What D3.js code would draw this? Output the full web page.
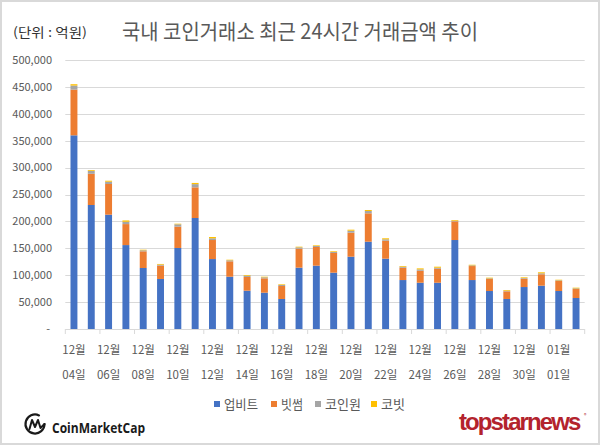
<!DOCTYPE html>
<html><head><meta charset="utf-8">
<script src="https://cdn.jsdelivr.net/npm/d3@7"></script>
<style>
html,body{margin:0;padding:0;background:#fff;}
svg{display:block;font-family:"Noto Sans CJK KR","Noto Sans",sans-serif;}
</style></head>
<body>
<svg id="chart" width="600" height="445"></svg>
<script>
// ---- data ----
const dates = ["12월 04일","12월 05일","12월 06일","12월 07일","12월 08일","12월 09일","12월 10일","12월 11일",
  "12월 12일","12월 13일","12월 14일","12월 15일","12월 16일","12월 17일","12월 18일","12월 19일",
  "12월 20일","12월 21일","12월 22일","12월 23일","12월 24일","12월 25일","12월 26일","12월 27일",
  "12월 28일","12월 29일","12월 30일","12월 31일","01월 01일","01월 02일"];
const upbit   = [360000,230500,212500,156000,113400,93000,150600,206300,130000,97200,71200,67500,55800,114000,117700,104700,
  134400,162300,130700,91000,86000,86000,165400,91000,70600,55800,78000,80500,70600,57600];
const bithumb = [85000,58000,57000,39000,31000,24800,39600,57000,35400,28600,25500,26700,24100,35300,34700,36600,
  44600,52700,33400,22900,22300,26000,34700,26000,22300,14200,15400,21200,18600,16700];
const coinone = [7500,5500,4300,4300,1900,1800,4400,6000,3200,1900,2400,1900,1900,2500,1900,1800,
  3700,4300,2600,1900,2500,1900,1200,1300,1300,1200,1300,1800,1300,1300];
const korbit  = [2500,1500,1800,2500,1100,1300,1100,2200,2400,1100,1300,1100,1200,1200,1200,1300,
  1900,1900,1900,1300,1900,1900,1300,1100,1200,1300,1300,1900,1100,1200];
const seriesNames = ["업비트","빗썸","코인원","코빗"];
const yTicks = [0,50000,100000,150000,200000,250000,300000,350000,400000,450000,500000];
const title = "국내 코인거래소 최근 24시간 거래금액 추이";
const unitLabel = "(단위 : 억원)";

(function(){
const colors = ["#4472c4","#ed7d31","#a5a5a5","#ffc000"];
const rows = dates.map((d,i)=>({date:d,"업비트":upbit[i],"빗썸":bithumb[i],"코인원":coinone[i],"코빗":korbit[i]}));

const svg = d3.select("#chart");
svg.append("rect").attr("x",1).attr("y",1).attr("width",598).attr("height",443)
  .attr("fill","#fff").attr("stroke","#d9d9d9").attr("stroke-width",2);

const pL=65.3, pR=584.7, pT=60, pB=329;
const x = d3.scaleBand().domain(dates).range([pL,pR]).paddingInner(0.6).paddingOuter(0.3);
const y = d3.scaleLinear().domain([0,500000]).range([pB,pT]);

// gridlines
svg.append("g").selectAll("line").data(yTicks.filter(t=>t>0)).join("line")
  .attr("x1",pL).attr("x2",pR).attr("y1",d=>Math.round(y(d))+0.5).attr("y2",d=>Math.round(y(d))+0.5)
  .attr("stroke","#d9d9d9").attr("stroke-width",1);

// y labels
const fmt = d3.format(",");
svg.append("g").selectAll("text").data(yTicks).join("text")
  .attr("x",d=>d===0?50:52).attr("y",d=>y(d)).attr("dy","0.35em")
  .attr("text-anchor","end").attr("font-size",11).attr("fill","#595959")
  .text(d=>d===0?"-":fmt(d));

// bars
const stack = d3.stack().keys(seriesNames)(rows);
svg.append("g").selectAll("g").data(stack).join("g").attr("fill",(d,i)=>colors[i])
  .selectAll("rect").data(d=>d).join("rect")
  .attr("x",d=>x(d.data.date)).attr("width",x.bandwidth())
  .attr("y",d=>y(d[1])).attr("height",d=>y(d[0])-y(d[1]));

// x axis line + ticks (every 2 categories, at band boundaries)
svg.append("line").attr("x1",pL).attr("x2",pR).attr("y1",pB+0.5).attr("y2",pB+0.5)
  .attr("stroke","#d9d9d9");
const step = x.step();
const tickIdx = d3.range(0, dates.length+1, 2);
svg.append("g").selectAll("line").data(tickIdx).join("line")
  .attr("x1",i=>pL+i*step).attr("x2",i=>pL+i*step).attr("y1",pB).attr("y2",pB+5)
  .attr("stroke","#d9d9d9");

// x labels
const lab = svg.append("g").selectAll("text").data(dates.filter((d,i)=>i%2===0)).join("text")
  .attr("text-anchor","middle").attr("font-size",11.5).attr("fill","#595959");
lab.each(function(d){
  const cx = x(d)+x.bandwidth()/2;
  const parts = d.split(" ");
  d3.select(this).append("tspan").attr("x",cx).attr("y",354).text(parts[0]);
  d3.select(this).append("tspan").attr("x",cx).attr("y",379).text(parts[1]);
});

// title
svg.append("text").attr("x",300).attr("y",39).attr("text-anchor","middle")
  .attr("font-size",21).attr("fill","#595959").attr("textLength",356).attr("lengthAdjust","spacingAndGlyphs")
  .text(title);
svg.append("text").attr("x",13).attr("y",37).attr("font-size",13).attr("fill","#333")
  .attr("textLength",74).attr("lengthAdjust","spacingAndGlyphs").text(unitLabel);

// legend
const legX = [214,271,315,371];
const legW = [34,22,36,24];
const leg = svg.append("g").selectAll("g").data(seriesNames).join("g");
leg.append("rect").attr("x",(d,i)=>legX[i]).attr("y",401).attr("width",6).attr("height",6).attr("fill",(d,i)=>colors[i]);
leg.append("text").attr("x",(d,i)=>legX[i]+10).attr("y",409).attr("font-size",13).attr("fill","#595959")
  .attr("textLength",(d,i)=>legW[i]).attr("lengthAdjust","spacingAndGlyphs").text(d=>d);

// CoinMarketCap logo
const logo = svg.append("g");
logo.append("path")
  .attr("d","M44.5,424 A9.5,9.5 0 1 1 39,415.4")
  .attr("fill","none").attr("stroke","#1a1a1a").attr("stroke-width",2.2).attr("stroke-linecap","round");
logo.append("path")
  .attr("d","M29.5,429 L32,420 L35,427 L38,420 L40.5,428 L44.5,424")
  .attr("fill","none").attr("stroke","#1a1a1a").attr("stroke-width",2).attr("stroke-linejoin","round").attr("stroke-linecap","round");
logo.append("text").attr("x",52).attr("y",433).attr("font-size",14).attr("font-weight","bold")
  .attr("font-family","'Open Sans','Noto Sans',sans-serif").attr("fill","#1a1a1a")
  .attr("textLength",93).attr("lengthAdjust","spacingAndGlyphs").text("CoinMarketCap");

// topstarnews
svg.append("text").attr("x",459).attr("y",430).attr("font-size",24).attr("font-weight","bold")
  .attr("font-family","'Liberation Sans',Arial,sans-serif").attr("fill","#b3232d")
  .attr("letter-spacing",-1.9).text("topstarnews");
svg.append("text").attr("x",584).attr("y",417).attr("font-size",5).attr("fill","#b3232d").text("®");
})();
</script>
</body></html>
